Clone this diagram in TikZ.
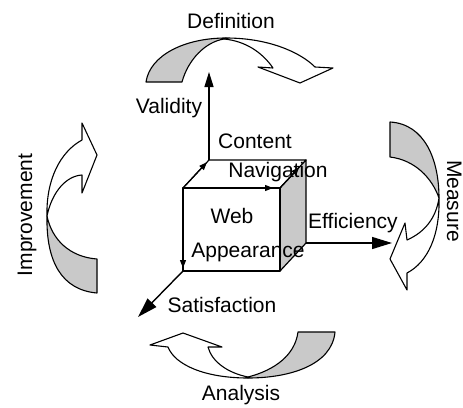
\documentclass[tikz,border=0pt]{standalone}
\usepackage{fontspec}
\setmainfont{Liberation Sans}
\usetikzlibrary{arrows.meta}
\definecolor{backside}{gray}{0.79}

\tikzset{
  lbl/.style={font=\fontsize{21}{25}\selectfont, inner sep=0pt},
  band/.style={draw=black, line width=1.1pt, line join=round},
  edge/.style={line width=1.2pt, line join=round},
  axis/.style={line width=1.4pt, -{Triangle[length=15pt,width=9pt]}},
  bigaxis/.style={line width=1.4pt, -{Triangle[length=20pt,width=12pt]}},
  edgearrow/.style={line width=1.2pt, -{Triangle[length=8pt,width=6pt]}},
}

\begin{document}
\begin{tikzpicture}[x=1pt,y=-1pt]
\useasboundingbox (0,0) rectangle (463,407);

% cycle arrows: white front part, grey back part
% top
\filldraw[band, fill=white] (226,38) .. controls (268,38) and (300,52) .. (315,67)
  -- (333,68) -- (300,83) -- (258,67) -- (273,68)
  .. controls (262,52) and (245,41) .. (224,39) -- cycle;
\filldraw[band, fill=backside] (146,82) .. controls (150,55) and (185,38) .. (226,38)
  -- (224,39) .. controls (205,42) and (188,60) .. (182,82) -- cycle;
% right
\filldraw[band, fill=white] (439,198) .. controls (440,235) and (428,262) .. (407,273)
  -- (407,290) -- (390,259) -- (405,223) -- (407,240)
  .. controls (425,232) and (436,218) .. (439,198) -- cycle;
\filldraw[band, fill=backside] (390,122) .. controls (425,124) and (439,160) .. (439,198)
  .. controls (432,178) and (415,160) .. (390,157) -- cycle;
% bottom
\filldraw[band, fill=white] (248,378) .. controls (205,378) and (175,365) .. (168,347)
  -- (150,345) -- (183,333) -- (222,347) -- (208,347)
  .. controls (212,362) and (228,373) .. (248,377) -- cycle;
\filldraw[band, fill=backside] (335,332) .. controls (332,365) and (290,378) .. (248,378)
  -- (248,377) .. controls (275,370) and (295,355) .. (298,332) -- cycle;
% left
\filldraw[band, fill=white] (47,216) .. controls (46,180) and (60,152) .. (82,140)
  -- (82,123) -- (97,155) -- (82,193) -- (82,175)
  .. controls (66,176) and (52,192) .. (47,216) -- cycle;
\filldraw[band, fill=backside] (97,293) .. controls (62,290) and (46,262) .. (47,216)
  .. controls (52,240) and (70,257) .. (97,259) -- cycle;

% cube corners
\coordinate (ftl) at (183,188);
\coordinate (ftr) at (280,188);
\coordinate (fbr) at (280,271);
\coordinate (fbl) at (183,271);
\coordinate (btl) at (209,160);
\coordinate (btr) at (306,160);
\coordinate (bbr) at (306,243);
% free ends of the axes
\coordinate (vtip) at (209,72);
\coordinate (stip) at (138,317);
\coordinate (etip) at (392,243);

% cube
\filldraw[edge, fill=white] (ftl) -- (btl) -- (btr) -- (ftr) -- cycle;
\filldraw[edge, fill=backside] (ftr) -- (btr) -- (bbr) -- (fbr) -- cycle;
\filldraw[edge, fill=white] (ftl) rectangle (fbr);

% axes
\draw[axis] (btl) -- (vtip);
\draw[bigaxis] (fbl) -- (stip);
\draw[bigaxis] (bbr) -- (etip);
\draw[edgearrow, shorten >=3pt] (ftl) -- (fbl);
\draw[edgearrow, shorten >=3pt] (ftl) -- (btl);
\draw[edgearrow, shorten >=7pt] (ftl) -- (ftr);
\draw[edgearrow, shorten >=10pt] (ftr) -- (btr);

% labels
\node[lbl, anchor=base] (definition) at (231,28) {Definition};
\node[lbl, anchor=base] (validity) at (169,113) {Validity};
\node[lbl, anchor=base] (content) at (255,148) {Content};
\node[lbl, anchor=base] (navigation) at (278,177) {Navigation};
\node[lbl, anchor=base] (web) at (232,223) {Web};
\node[lbl, anchor=base] (appearance) at (248,257) {Appearance};
\node[lbl, anchor=base west] (efficiency) at (308,228) {Efficiency};
\node[lbl, anchor=base] (satisfaction) at (222,312) {Satisfaction};
\node[lbl, anchor=base] (analysis) at (241,400) {Analysis};
\node[lbl, anchor=base, rotate=90] (improvement) at (32,215) {Improvement};
\node[lbl, anchor=base, rotate=-90] (measure) at (447,201) {Measure};
\end{tikzpicture}
\end{document}
